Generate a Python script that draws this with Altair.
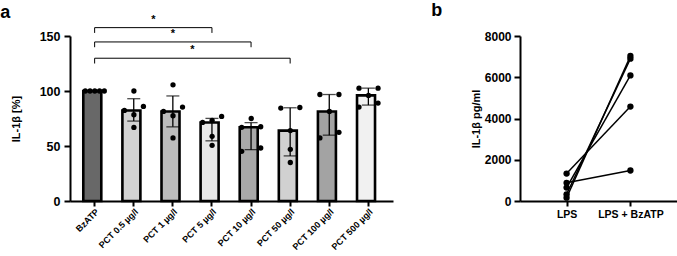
import altair as alt
import pandas as pd
import numpy as np

FONT = "Liberation Sans"

# ---------------- Panel a data ----------------
conditions = ["BzATP", "PCT 0.5 µg/l", "PCT 1 µg/l", "PCT 5 µg/l",
              "PCT 10 µg/l", "PCT 50 µg/l", "PCT 100 µg/l", "PCT 500 µg/l"]
bar_colors = ["#686868", "#d3d3d3", "#bcbcbc", "#e7e7e7",
              "#a9a9a9", "#d1d1d1", "#a3a3a3", "#f1f1f1"]

bzatp = [100, 100, 100, 100, 100]
pct_0_5 = [100, 86, 82.3, 78.4, 66.9]
pct_1 = [105.6, 85.4, 81.4, 77.5, 57.3]
pct_5 = [76.9, 73.3, 71.4, 58.8, 50.6]
pct_10 = [75, 67.5, 67, 48.2, 45.2]
pct_50 = [85, 84.5, 64, 47, 35]
pct_100 = [96.8, 96.8, 81.4, 62.4, 57.3]
pct_500 = [102.6, 102.6, 96, 89, 85.4]
groups = [bzatp, pct_0_5, pct_1, pct_5, pct_10, pct_50, pct_100, pct_500]

sig_from = "BzATP"
sig_to = ["PCT 5 µg/l", "PCT 10 µg/l", "PCT 50 µg/l"]
sig_level = [157.6, 144.6, 129.8]
sig_text = ["*", "*", "*"]

# ---------------- Panel b data ----------------
b_conditions = ["LPS", "LPS + BzATP"]
lps = [1330, 880, 650, 325, 160]
lps_bzatp = [4580, 1480, 6090, 6900, 7030]


def spread(vals, tol=6.0):
    """simple row-based dot spreading (GraphPad-like scatter)"""
    order = sorted(range(len(vals)), key=lambda i: -vals[i])
    rows, cur = [], []
    for i in order:
        if cur and vals[cur[0]] - vals[i] > tol:
            rows.append(cur)
            cur = []
        cur.append(i)
    rows.append(cur)
    layouts = {1: [0], 2: [-2, 2], 3: [-2, 0, 2], 4: [-2, -1, 1, 2], 5: [-2, -1, 0, 1, 2]}
    slots = [0] * len(vals)
    for r in rows:
        r_sorted = sorted(r, key=lambda i: vals[i])
        for i, s in zip(r_sorted, layouts[len(r)]):
            slots[i] = s
    return slots


pt_rows, sum_rows = [], []
for cond, vals in zip(conditions, groups):
    for v, s in zip(vals, spread(vals)):
        pt_rows.append({"cond": cond, "value": v, "slot": s})
    arr = np.array(vals, dtype=float)
    sum_rows.append({
        "cond": cond,
        "median": float(np.median(arr)),
        "q1": float(np.percentile(arr, 25, method="weibull")),
        "q3": float(np.percentile(arr, 75, method="weibull")),
    })
pts = pd.DataFrame(pt_rows)
summ = pd.DataFrame(sum_rows)

idx = {c: i for i, c in enumerate(conditions)}
br_rows = []
for t, lv, tx in zip(sig_to, sig_level, sig_text):
    a, b = idx[sig_from], idx[t]
    br_rows.append({"x1": a, "x2": b, "mid": (a + b) / 2, "lev": lv,
                    "low": lv - 4.8, "txt": tx})
br = pd.DataFrame(br_rows)

P_IN, P_OUT = 0.42, 0.34
half = P_OUT + (1 - P_IN) / 2
xq_scale = alt.Scale(domain=[-half, len(conditions) - 1 + half], nice=False, zero=False)

yscale = alt.Scale(domain=[0, 150], nice=False)
yaxis = alt.Axis(values=[0, 50, 100, 150], title="IL-1β [%]", titlePadding=18,
                 format="d", labelFontSize=12.5, labelPadding=4)
xband = alt.X("cond:N", sort=conditions,
              scale=alt.Scale(paddingInner=P_IN, paddingOuter=P_OUT),
              axis=alt.Axis(title=None, labelAngle=-45, labelFontSize=9, labelPadding=1))

base = alt.Chart(summ)
bars = base.mark_bar(stroke="black", strokeWidth=2.6).encode(
    x=xband,
    y=alt.Y("median:Q", scale=yscale, axis=yaxis),
    fill=alt.Fill("cond:N", sort=conditions,
                  scale=alt.Scale(domain=conditions, range=bar_colors), legend=None),
)
err = base.mark_rule(color="black", strokeWidth=1.3).encode(
    x=alt.X("cond:N", sort=conditions), y="q1:Q", y2="q3:Q")
cap_lo = base.mark_tick(color="black", thickness=1.3, size=13).encode(
    x=alt.X("cond:N", sort=conditions), y="q1:Q")
cap_hi = base.mark_tick(color="black", thickness=1.3, size=13).encode(
    x=alt.X("cond:N", sort=conditions), y="q3:Q")
dots = alt.Chart(pts).mark_circle(color="black", opacity=1, size=28).encode(
    x=alt.X("cond:N", sort=conditions),
    xOffset=alt.XOffset("slot:O", scale=alt.Scale(domain=[-2, -1, 0, 1, 2],
                                                  range=[-0.4, 23.4])),
    y="value:Q",
)

bchart = alt.Chart(br)
br_h = bchart.mark_rule(color="black", strokeWidth=1).encode(
    x=alt.X("x1:Q", scale=xq_scale, axis=None), x2="x2:Q", y="lev:Q")
br_l = bchart.mark_rule(color="black", strokeWidth=1).encode(
    x=alt.X("x1:Q", scale=xq_scale, axis=None), y="lev:Q", y2="low:Q")
br_r = bchart.mark_rule(color="black", strokeWidth=1).encode(
    x=alt.X("x2:Q", scale=xq_scale, axis=None), y="lev:Q", y2="low:Q")
stars = bchart.mark_text(fontSize=11, fontWeight="bold", font=FONT, dy=-8,
                         baseline="middle").encode(
    x=alt.X("mid:Q", scale=xq_scale, axis=None), y="lev:Q", text="txt:N")

main = alt.layer(bars, err, cap_lo, cap_hi, dots).resolve_scale(x="shared")
brackets = alt.layer(br_h, br_l, br_r, stars)
panel_a = alt.layer(main, brackets).resolve_scale(x="independent").properties(
    width=323, height=165,
    title=alt.TitleParams("a", anchor="start", fontSize=18, fontWeight="bold",
                          font=FONT, dx=-10, offset=-8),
)

# ---------------- Panel b ----------------
b_rows = []
for k, (v1, v2) in enumerate(zip(lps, lps_bzatp)):
    b_rows.append({"pair": k, "cond": b_conditions[0], "value": v1})
    b_rows.append({"pair": k, "cond": b_conditions[1], "value": v2})
dfb = pd.DataFrame(b_rows)

bx = alt.X("cond:N", sort=b_conditions, scale=alt.Scale(type="point", padding=0.73),
           axis=alt.Axis(title=None, labelAngle=0, labelFontSize=10.5, labelPadding=3))
by = alt.Y("value:Q", scale=alt.Scale(domain=[0, 8000], nice=False),
           axis=alt.Axis(values=[0, 2000, 4000, 6000, 8000], title="IL-1β pg/ml",
                         titlePadding=3, format="d", labelFontSize=12, labelPadding=3))
b_lines = alt.Chart(dfb).mark_line(color="black", strokeWidth=1.5).encode(
    x=bx, y=by, detail="pair:N")
b_pts = alt.Chart(dfb).mark_circle(color="black", opacity=1, size=40).encode(
    x=bx, y=by)
panel_b = alt.layer(b_lines, b_pts).properties(
    width=157, height=165,
    title=alt.TitleParams("b", anchor="start", fontSize=18, fontWeight="bold",
                          font=FONT, dx=-39, offset=10),
)

chart = alt.hconcat(panel_a, panel_b, spacing=38).properties(
    padding={"left": 0, "top": 2, "right": 0, "bottom": 0},
    background="white",
).configure_view(stroke=None).configure_axis(
    domainColor="black", domainWidth=2, tickColor="black", tickWidth=2, tickSize=6,
    labelFont=FONT, labelFontWeight="bold", labelColor="black",
    titleFont=FONT, titleFontWeight="bold", titleColor="black", titleFontSize=11,
    grid=False,
).configure_axisX(tickSize=5)

chart.save("out.html", embed_options={"renderer": "svg", "actions": False})
